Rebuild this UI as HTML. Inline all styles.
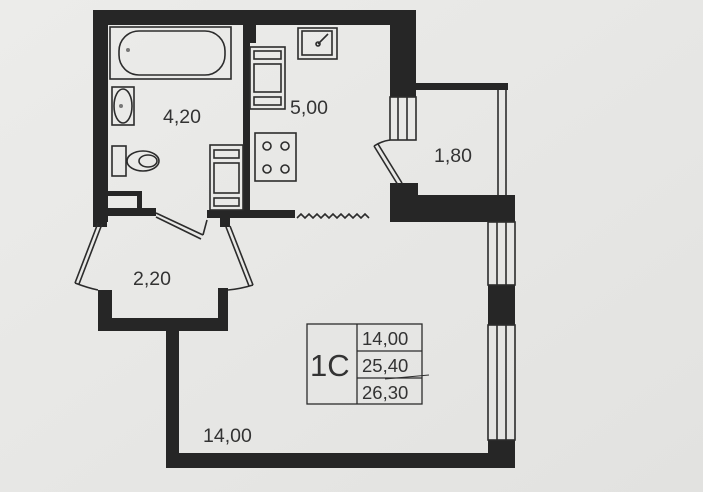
<!DOCTYPE html>
<html><head><style>
html,body{margin:0;padding:0;background:#e8e8e6;}
svg{display:block}
text{font-family:"Liberation Sans",sans-serif;fill:#333;}
</style></head><body>
<svg width="703" height="492" viewBox="0 0 703 492">
<defs><linearGradient id="bg" x1="0" y1="0" x2="1" y2="1"><stop offset="0" stop-color="#ececea"/><stop offset="1" stop-color="#e2e2e0"/></linearGradient></defs>
<rect width="703" height="492" fill="url(#bg)"/>
<g fill="#262626">
<rect x="93" y="10" width="323" height="15"/>
<rect x="93" y="10" width="15" height="212"/>
<rect x="390" y="10" width="26" height="87"/>
<rect x="415" y="83" width="93" height="7"/>
<rect x="243" y="25" width="7" height="193"/>
<rect x="250" y="25" width="6" height="18"/>
<rect x="108" y="191" width="34" height="5"/>
<rect x="137" y="191" width="5" height="19"/>
<rect x="108" y="208" width="48" height="8"/>
<rect x="207" y="210" width="43" height="8"/>
<rect x="250" y="210" width="45" height="8"/>
<rect x="390" y="183" width="28" height="39"/>
<rect x="390" y="195" width="125" height="27"/>
<rect x="488" y="285" width="27" height="40"/>
<rect x="488" y="440" width="27" height="28"/>
<rect x="166" y="453" width="349" height="15"/>
<rect x="166" y="323" width="13" height="145"/>
<rect x="98" y="318" width="130" height="13"/>
<rect x="98" y="290" width="14" height="40"/>
<rect x="218" y="288" width="10" height="40"/>
<rect x="93" y="215" width="14" height="12"/>
<rect x="220" y="215" width="10" height="12"/>
</g>
<g fill="none" stroke="#2c2c2c" stroke-width="1.6">
<line x1="498" y1="90" x2="498" y2="195"/><line x1="506" y1="90" x2="506" y2="195"/>
<rect x="390" y="97" width="26" height="43"/><line x1="398" y1="97" x2="398" y2="140"/><line x1="407" y1="97" x2="407" y2="140"/>
<path d="M374 146 Q382 141 390 140"/><path d="M374 146 L398 185 M378 144 L402 183"/>
<rect x="488" y="222" width="27" height="63"/><line x1="497" y1="222" x2="497" y2="285"/><line x1="506" y1="222" x2="506" y2="285"/>
<rect x="488" y="325" width="27" height="115"/><line x1="497" y1="325" x2="497" y2="440"/><line x1="506" y1="325" x2="506" y2="440"/>
<path d="M297 218 l4 -4 l4 4 l4 -4 l4 4 l4 -4 l4 4 l4 -4 l4 4 l4 -4 l4 4 l4 -4 l4 4 l4 -4 l4 4 l4 -4 l4 4 l4 -4 l4 4"/>
<path d="M156 213 L203 235 M156 217 L201 239"/><path d="M203 235 L207 220"/>
<path d="M98 223 L75 283 M102 224 L79 284"/><path d="M75 283 Q88 288 98 290"/>
<path d="M230 226 L253 285 M226 227 L249 286"/><path d="M253 285 Q240 289 228 290"/>
<rect x="110" y="27" width="121" height="52"/>
<rect x="119" y="31" width="106" height="44" rx="20"/>
<rect x="112" y="87" width="22" height="38"/><ellipse cx="123" cy="106" rx="9" ry="17"/>
<rect x="112" y="146" width="14" height="30"/><ellipse cx="143" cy="161" rx="16" ry="10"/><ellipse cx="148" cy="161" rx="9" ry="6"/>
<rect x="210" y="145" width="33" height="65"/><rect x="214" y="150" width="25" height="8"/><rect x="214" y="163" width="25" height="30"/><rect x="214" y="198" width="25" height="8"/>
<rect x="250" y="47" width="35" height="62"/><rect x="254" y="51" width="27" height="8"/><rect x="254" y="64" width="27" height="28"/><rect x="254" y="97" width="27" height="8"/>
<rect x="298" y="28" width="39" height="31"/><rect x="302" y="31" width="30" height="24"/>
<path d="M318 44 L328 34"/><circle cx="318" cy="44" r="2"/>
<rect x="255" y="133" width="41" height="48"/>
<circle cx="267" cy="146" r="4"/><circle cx="285" cy="146" r="4"/><circle cx="267" cy="169" r="4"/><circle cx="285" cy="169" r="4"/>
<rect x="307" y="324" width="115" height="80" stroke-width="1.3"/>
<line x1="357" y1="324" x2="357" y2="404" stroke-width="1.3"/>
<line x1="357" y1="351" x2="422" y2="351" stroke-width="1.3"/>
<line x1="357" y1="378" x2="422" y2="378" stroke-width="1.3"/>
<line x1="385" y1="379" x2="429" y2="375" stroke-width="1"/>
</g>
<g fill="#777"><circle cx="128" cy="50" r="2"/><circle cx="121" cy="106" r="2"/></g>
<text x="163" y="123" font-size="19.5">4,20</text>
<text x="290" y="114" font-size="19.5">5,00</text>
<text x="434" y="162" font-size="19.5">1,80</text>
<text x="133" y="285" font-size="19.5">2,20</text>
<text x="203" y="442" font-size="19.5">14,00</text>
<text x="310" y="376" font-size="31">1C</text>
<text x="362" y="345" font-size="18.5">14,00</text>
<text x="362" y="372" font-size="18.5">25,40</text>
<text x="362" y="399" font-size="18.5">26,30</text>
</svg>
</body></html>
